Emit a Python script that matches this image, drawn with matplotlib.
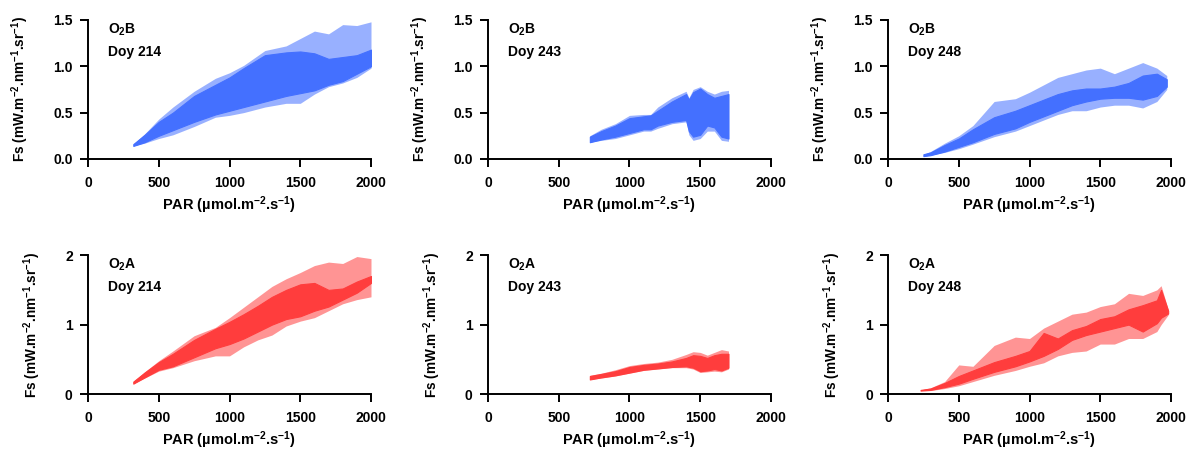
import matplotlib
matplotlib.use('Agg')
from matplotlib import pyplot as plt

plt.rcParams['font.family'] = ['Liberation Sans', 'DejaVu Sans']
plt.rcParams['font.weight'] = 'bold'
plt.rcParams['mathtext.fontset'] = 'custom'
plt.rcParams['mathtext.rm'] = 'Liberation Sans:bold'
plt.rcParams['mathtext.bf'] = 'Liberation Sans:bold'
plt.rcParams['mathtext.default'] = 'bf'

BLUE = '#4470ff'
RED = '#ff3d3d'

# ---------------------------------------------------------------
#   envelopes: PAR, dense low/high, sparse low/high
# ---------------------------------------------------------------
b214_par = [320, 400, 500, 600, 750, 900, 1000, 1100, 1250, 1400, 1500, 1600, 1700, 1800, 1900, 2000]
b214_lo = [0.14, 0.18, 0.25, 0.31, 0.40, 0.48, 0.52, 0.56, 0.62, 0.68, 0.71, 0.74, 0.80, 0.84, 0.92, 1.00]
b214_hi = [0.16, 0.26, 0.40, 0.50, 0.68, 0.80, 0.88, 0.98, 1.12, 1.15, 1.16, 1.14, 1.08, 1.10, 1.12, 1.18]
b214_slo = [0.14, 0.17, 0.22, 0.26, 0.35, 0.45, 0.47, 0.50, 0.56, 0.60, 0.60, 0.70, 0.78, 0.82, 0.88, 0.98]
b214_shi = [0.16, 0.27, 0.43, 0.56, 0.73, 0.87, 0.93, 1.01, 1.17, 1.22, 1.30, 1.38, 1.35, 1.45, 1.44, 1.48]

b243_par = [720, 800, 900, 1000, 1100, 1150, 1200, 1300, 1400, 1420, 1450, 1500, 1550, 1600, 1650, 1700]
b243_lo = [0.18, 0.21, 0.24, 0.28, 0.32, 0.32, 0.36, 0.40, 0.42, 0.30, 0.24, 0.26, 0.36, 0.34, 0.24, 0.22]
b243_hi = [0.24, 0.30, 0.36, 0.44, 0.46, 0.47, 0.52, 0.62, 0.70, 0.64, 0.72, 0.76, 0.70, 0.66, 0.68, 0.70]
b243_slo = [0.18, 0.20, 0.22, 0.26, 0.30, 0.30, 0.33, 0.38, 0.40, 0.26, 0.20, 0.22, 0.30, 0.30, 0.20, 0.19]
b243_shi = [0.25, 0.32, 0.38, 0.47, 0.48, 0.48, 0.56, 0.66, 0.73, 0.66, 0.75, 0.78, 0.73, 0.70, 0.73, 0.74]

b248_par = [250, 300, 400, 500, 600, 750, 900, 1000, 1100, 1200, 1300, 1400, 1500, 1600, 1700, 1800, 1900, 1970]
b248_lo = [0.03, 0.04, 0.08, 0.13, 0.18, 0.27, 0.33, 0.40, 0.46, 0.52, 0.58, 0.62, 0.65, 0.66, 0.66, 0.64, 0.68, 0.78]
b248_hi = [0.05, 0.07, 0.15, 0.22, 0.32, 0.45, 0.52, 0.58, 0.64, 0.70, 0.74, 0.76, 0.76, 0.78, 0.82, 0.90, 0.92, 0.86]
b248_slo = [0.03, 0.04, 0.07, 0.11, 0.16, 0.24, 0.30, 0.36, 0.42, 0.48, 0.52, 0.52, 0.56, 0.58, 0.58, 0.55, 0.62, 0.75]
b248_shi = [0.05, 0.08, 0.17, 0.25, 0.36, 0.62, 0.65, 0.72, 0.80, 0.88, 0.92, 0.96, 0.98, 0.92, 0.98, 1.04, 0.98, 0.90]

a214_par = [320, 400, 500, 600, 750, 900, 1000, 1100, 1200, 1300, 1400, 1500, 1600, 1700, 1800, 1900, 2000]
a214_lo = [0.15, 0.24, 0.35, 0.40, 0.53, 0.66, 0.72, 0.80, 0.90, 1.00, 1.08, 1.12, 1.20, 1.26, 1.36, 1.46, 1.60]
a214_hi = [0.18, 0.31, 0.46, 0.58, 0.78, 0.94, 1.04, 1.15, 1.27, 1.40, 1.50, 1.58, 1.60, 1.50, 1.52, 1.62, 1.70]
a214_slo = [0.15, 0.23, 0.33, 0.38, 0.48, 0.55, 0.55, 0.68, 0.78, 0.85, 0.98, 1.05, 1.10, 1.20, 1.30, 1.36, 1.40]
a214_shi = [0.18, 0.32, 0.48, 0.62, 0.84, 0.96, 1.10, 1.25, 1.40, 1.55, 1.66, 1.75, 1.85, 1.90, 1.88, 1.98, 1.95]

a243_par = [720, 800, 900, 1000, 1100, 1200, 1300, 1400, 1450, 1500, 1550, 1600, 1650, 1700]
a243_lo = [0.21, 0.24, 0.27, 0.31, 0.35, 0.37, 0.39, 0.40, 0.38, 0.33, 0.34, 0.36, 0.34, 0.38]
a243_hi = [0.26, 0.29, 0.33, 0.39, 0.42, 0.44, 0.47, 0.52, 0.56, 0.55, 0.52, 0.56, 0.58, 0.58]
a243_slo = [0.21, 0.23, 0.26, 0.30, 0.34, 0.36, 0.38, 0.38, 0.36, 0.31, 0.32, 0.33, 0.32, 0.36]
a243_shi = [0.27, 0.30, 0.35, 0.41, 0.44, 0.46, 0.50, 0.57, 0.61, 0.60, 0.56, 0.60, 0.64, 0.62]

a248_par = [230, 300, 400, 500, 600, 750, 900, 1000, 1100, 1200, 1300, 1400, 1500, 1600, 1700, 1800, 1900, 1930, 1980]
a248_lo = [0.05, 0.06, 0.10, 0.15, 0.22, 0.32, 0.40, 0.47, 0.55, 0.65, 0.78, 0.85, 0.90, 0.95, 1.00, 0.90, 1.02, 1.10, 1.16]
a248_hi = [0.06, 0.08, 0.16, 0.26, 0.34, 0.46, 0.55, 0.62, 0.88, 0.80, 0.92, 0.98, 1.08, 1.12, 1.22, 1.28, 1.35, 1.50, 1.20]
a248_slo = [0.05, 0.05, 0.08, 0.12, 0.18, 0.27, 0.34, 0.40, 0.45, 0.55, 0.60, 0.62, 0.72, 0.72, 0.80, 0.80, 0.90, 1.00, 1.14]
a248_shi = [0.06, 0.09, 0.18, 0.42, 0.40, 0.70, 0.82, 0.80, 0.95, 1.05, 1.15, 1.18, 1.26, 1.30, 1.45, 1.42, 1.50, 1.56, 1.22]

panels = [
    ('B', '214', BLUE, b214_par, b214_lo, b214_hi, b214_slo, b214_shi),
    ('B', '243', BLUE, b243_par, b243_lo, b243_hi, b243_slo, b243_shi),
    ('B', '248', BLUE, b248_par, b248_lo, b248_hi, b248_slo, b248_shi),
    ('A', '214', RED, a214_par, a214_lo, a214_hi, a214_slo, a214_shi),
    ('A', '243', RED, a243_par, a243_lo, a243_hi, a243_slo, a243_shi),
    ('A', '248', RED, a248_par, a248_lo, a248_hi, a248_slo, a248_shi),
]

fig = plt.figure(figsize=(11.96, 4.54), dpi=100)
lefts = [0.0736, 0.408, 0.7425]
bottoms = [0.650, 0.132]

for i, (band, doy, col, par, lo, hi, slo, shi) in enumerate(panels):
    row, c = divmod(i, 3)
    ax = fig.add_axes([lefts[c], bottoms[row], 0.2366, 0.306])

    # sparse part of the cloud lighter, dense core solid
    ax.fill_between(par, slo, shi, color=col, alpha=0.55, linewidth=0)
    ax.fill_between(par, lo, hi, color=col, linewidth=0.8, edgecolor=col)

    ax.set_xlim(0, 2000)
    ax.set_xticks([0, 500, 1000, 1500, 2000])
    if band == 'B':
        ax.set_ylim(0, 1.5)
        ax.set_yticks([0, 0.5, 1.0, 1.5])
        ax.set_yticklabels(['0.0', '0.5', '1.0', '1.5'])
    else:
        ax.set_ylim(0, 2)
        ax.set_yticks([0, 1, 2])

    for s in ['top', 'right']:
        ax.spines[s].set_visible(False)
    for s in ['left', 'bottom']:
        ax.spines[s].set_linewidth(1.4)
    ax.tick_params(axis='x', direction='out', length=5.5, width=1.4, labelsize=10, pad=7)
    ax.tick_params(axis='y', direction='out', length=6, width=1.4, labelsize=10, pad=5)
    for lab in ax.get_xticklabels() + ax.get_yticklabels():
        lab.set_fontweight('bold')

    ax.set_xlabel(r'PAR (µmol.m$^{-2}$.s$^{-1}$)', fontsize=10.5, fontweight='bold', labelpad=3)
    ax.set_ylabel(r'Fs (mW.m$^{-2}$.nm$^{-1}$.sr$^{-1}$)', fontsize=9.8, fontweight='bold', labelpad=16)

    ax.text(0.07, 0.93, r'O$_2$' + band, transform=ax.transAxes, fontsize=10,
            fontweight='bold', va='center')
    ax.text(0.07, 0.77, 'Doy ' + doy, transform=ax.transAxes, fontsize=10,
            fontweight='bold', va='center')

fig.savefig('out.png', dpi=100)
